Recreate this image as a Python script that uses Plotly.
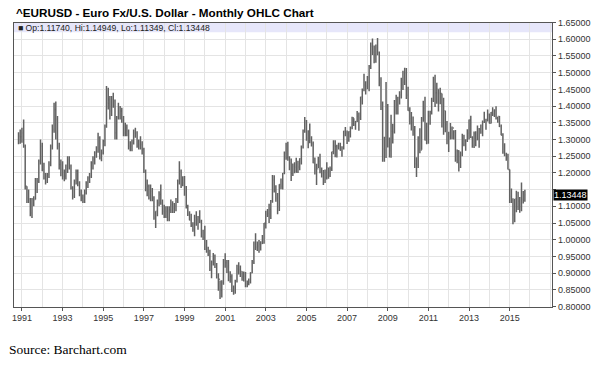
import pandas as pd
import plotly.graph_objects as go

# Monthly bars, Nov 1990 .. Oct 2015 (synthetic euro before 1999)
start_month = "1990-11-01"

close = [
    1.310, 1.308,
    1.320, 1.280, 1.160, 1.125, 1.120, 1.080, 1.120, 1.120, 1.180, 1.175, 1.235, 1.280,
    1.210, 1.185, 1.190, 1.195, 1.225, 1.280, 1.330, 1.390, 1.360, 1.280, 1.225, 1.210,
    1.190, 1.190, 1.210, 1.240, 1.220, 1.155, 1.130, 1.175, 1.205, 1.170, 1.135, 1.125,
    1.115, 1.140, 1.170, 1.185, 1.190, 1.230, 1.240, 1.260, 1.265, 1.305, 1.245, 1.260,
    1.295, 1.340, 1.410, 1.420, 1.385, 1.420, 1.415, 1.320, 1.365, 1.395, 1.385, 1.360,
    1.320, 1.335, 1.325, 1.280, 1.280, 1.290, 1.320, 1.320, 1.280, 1.285, 1.285, 1.270,
    1.205, 1.155, 1.160, 1.125, 1.145, 1.125, 1.065, 1.085, 1.110, 1.135, 1.110, 1.085,
    1.070, 1.085, 1.060, 1.090, 1.105, 1.095, 1.100, 1.115, 1.175, 1.205, 1.165, 1.170,
    1.1575, 1.0975, 1.0770, 1.0585, 1.0430, 1.0310, 1.0670, 1.0600, 1.0680, 1.0550, 1.0090, 1.0070,
    0.9712, 0.9648, 0.9570, 0.9115, 0.9330, 0.9525, 0.9270, 0.8880, 0.8820, 0.8500, 0.8725, 0.9390,
    0.9310, 0.9200, 0.8780, 0.8890, 0.8470, 0.8490, 0.8770, 0.9125, 0.9110, 0.9050, 0.8895, 0.8910,
    0.8600, 0.8685, 0.8720, 0.9015, 0.9335, 0.9870, 0.9775, 0.9810, 0.9865, 0.9885, 0.9920, 1.0490,
    1.0765, 1.0785, 1.0910, 1.1170, 1.1780, 1.1500, 1.1245, 1.0980, 1.1650, 1.1590, 1.1990, 1.2595,
    1.2460, 1.2470, 1.2300, 1.1980, 1.2200, 1.2170, 1.2020, 1.2175, 1.2420, 1.2775, 1.3265, 1.3560,
    1.3035, 1.3255, 1.2960, 1.2870, 1.2300, 1.2100, 1.2125, 1.2340, 1.2025, 1.1990, 1.1790, 1.1845,
    1.2155, 1.1920, 1.2120, 1.2630, 1.2815, 1.2790, 1.2765, 1.2815, 1.2680, 1.2755, 1.3250, 1.3195,
    1.3000, 1.3230, 1.3355, 1.3650, 1.3450, 1.3540, 1.3690, 1.3640, 1.4270, 1.4480, 1.4630, 1.4590,
    1.4860, 1.5185, 1.5790, 1.5610, 1.5545, 1.5755, 1.5600, 1.4690, 1.4100, 1.2720, 1.2690, 1.3970,
    1.2800, 1.2660, 1.3250, 1.3230, 1.4160, 1.4035, 1.4255, 1.4340, 1.4640, 1.4715, 1.4995, 1.4325,
    1.3865, 1.3630, 1.3510, 1.3295, 1.2270, 1.2235, 1.3050, 1.2675, 1.3630, 1.3935, 1.2985, 1.3380,
    1.3695, 1.3805, 1.4160, 1.4805, 1.4395, 1.4500, 1.4390, 1.4380, 1.3390, 1.3860, 1.3445, 1.2960,
    1.3080, 1.3320, 1.3345, 1.3235, 1.2370, 1.2660, 1.2305, 1.2575, 1.2860, 1.2960, 1.2985, 1.3190,
    1.3580, 1.3060, 1.2820, 1.3170, 1.2995, 1.3010, 1.3300, 1.3225, 1.3525, 1.3585, 1.3590, 1.3745,
    1.3485, 1.3805, 1.3770, 1.3870, 1.3635, 1.3690, 1.3390, 1.3130, 1.2630, 1.2525, 1.2450, 1.2100,
    1.1290, 1.1195, 1.0730, 1.1220, 1.0985, 1.1150, 1.0985, 1.1210, 1.1174, 1.13448,
]

high = [
    1.322, 1.330,
    1.335, 1.360, 1.285, 1.160, 1.150, 1.125, 1.125, 1.130, 1.185, 1.185, 1.240, 1.300,
    1.290, 1.230, 1.200, 1.200, 1.235, 1.285, 1.345, 1.410, 1.414, 1.370, 1.290, 1.240,
    1.235, 1.210, 1.225, 1.250, 1.250, 1.225, 1.160, 1.180, 1.210, 1.210, 1.175, 1.150,
    1.135, 1.150, 1.175, 1.190, 1.200, 1.235, 1.250, 1.265, 1.280, 1.320, 1.310, 1.270,
    1.300, 1.345, 1.460, 1.455, 1.430, 1.430, 1.440, 1.420, 1.370, 1.410, 1.400, 1.395,
    1.370, 1.350, 1.345, 1.330, 1.295, 1.300, 1.330, 1.335, 1.325, 1.300, 1.310, 1.295,
    1.275, 1.210, 1.180, 1.165, 1.165, 1.155, 1.130, 1.085, 1.120, 1.145, 1.165, 1.120,
    1.105, 1.100, 1.100, 1.100, 1.120, 1.115, 1.110, 1.125, 1.180, 1.235, 1.210, 1.190,
    1.1906, 1.1608, 1.1045, 1.0850, 1.0780, 1.0520, 1.0750, 1.0850, 1.0710, 1.0880, 1.0600, 1.0300,
    1.0415, 0.9990, 0.9790, 0.9700, 0.9380, 0.9600, 0.9560, 0.9300, 0.9000, 0.8780, 0.8790, 0.9420,
    0.9593, 0.9390, 0.9390, 0.9060, 0.8970, 0.8630, 0.8800, 0.9250, 0.9325, 0.9230, 0.9060, 0.9050,
    0.9035, 0.8780, 0.8840, 0.9030, 0.9390, 0.9950, 1.0190, 0.9950, 0.9990, 0.9955, 1.0140, 1.0500,
    1.0870, 1.0920, 1.1080, 1.1190, 1.1935, 1.1930, 1.1630, 1.1400, 1.1660, 1.1830, 1.2000, 1.2640,
    1.2900, 1.2930, 1.2500, 1.2430, 1.2280, 1.2320, 1.2450, 1.2360, 1.2440, 1.2820, 1.3300, 1.3670,
    1.3580, 1.3280, 1.3480, 1.3100, 1.2940, 1.2460, 1.2270, 1.2480, 1.2570, 1.2160, 1.2090, 1.2100,
    1.2320, 1.2150, 1.2190, 1.2630, 1.2980, 1.2980, 1.2840, 1.2900, 1.2900, 1.2800, 1.3260, 1.3370,
    1.3270, 1.3250, 1.3390, 1.3680, 1.3635, 1.3555, 1.3850, 1.3810, 1.4280, 1.4525, 1.4965, 1.4740,
    1.4900, 1.5230, 1.5900, 1.6020, 1.5810, 1.5840, 1.6038, 1.5630, 1.4860, 1.4140, 1.3080, 1.4720,
    1.4060, 1.3060, 1.3740, 1.3470, 1.4180, 1.4340, 1.4280, 1.4445, 1.4845, 1.5060, 1.5145, 1.5140,
    1.4580, 1.3965, 1.3820, 1.3690, 1.3400, 1.2465, 1.3100, 1.3335, 1.3670, 1.4160, 1.4280, 1.3500,
    1.3860, 1.3860, 1.4250, 1.4880, 1.4940, 1.4700, 1.4500, 1.4550, 1.4380, 1.4250, 1.3860, 1.3550,
    1.3235, 1.3490, 1.3385, 1.3280, 1.3285, 1.2700, 1.2680, 1.2640, 1.3170, 1.3140, 1.3010, 1.3310,
    1.3600, 1.3710, 1.3100, 1.3240, 1.3245, 1.3415, 1.3345, 1.3450, 1.3570, 1.3830, 1.3620, 1.3895,
    1.3775, 1.3825, 1.3965, 1.3905, 1.3995, 1.3680, 1.3700, 1.3445, 1.3190, 1.2890, 1.2600, 1.2570,
    1.2100, 1.1535, 1.1240, 1.1215, 1.1465, 1.1435, 1.1280, 1.1715, 1.1460, 1.14949,
]

low = [
    1.286, 1.287,
    1.290, 1.275, 1.150, 1.110, 1.110, 1.070, 1.065, 1.100, 1.120, 1.140, 1.170, 1.225,
    1.205, 1.180, 1.165, 1.170, 1.185, 1.220, 1.270, 1.320, 1.300, 1.270, 1.210, 1.190,
    1.180, 1.175, 1.180, 1.200, 1.210, 1.150, 1.120, 1.125, 1.165, 1.160, 1.130, 1.115,
    1.110, 1.110, 1.135, 1.155, 1.170, 1.185, 1.210, 1.225, 1.245, 1.260, 1.240, 1.235,
    1.255, 1.280, 1.335, 1.390, 1.360, 1.370, 1.395, 1.300, 1.300, 1.360, 1.360, 1.350,
    1.310, 1.310, 1.310, 1.270, 1.265, 1.265, 1.285, 1.305, 1.275, 1.270, 1.270, 1.255,
    1.200, 1.145, 1.130, 1.120, 1.115, 1.115, 1.060, 1.035, 1.070, 1.100, 1.105, 1.075,
    1.065, 1.065, 1.055, 1.055, 1.080, 1.080, 1.080, 1.085, 1.110, 1.165, 1.155, 1.160,
    1.1316, 1.0935, 1.0707, 1.0580, 1.0380, 1.0240, 1.0105, 1.0420, 1.0295, 1.0500, 1.0070, 0.9990,
    0.9693, 0.9613, 0.9510, 0.9065, 0.8844, 0.9230, 0.9155, 0.8840, 0.8472, 0.8228, 0.8268, 0.8655,
    0.9158, 0.9007, 0.8760, 0.8715, 0.8435, 0.8350, 0.8380, 0.8720, 0.8960, 0.8885, 0.8770, 0.8750,
    0.8580, 0.8580, 0.8640, 0.8690, 0.9000, 0.9270, 0.9695, 0.9660, 0.9610, 0.9680, 0.9870, 0.9880,
    1.0335, 1.0680, 1.0500, 1.0620, 1.1110, 1.1410, 1.1140, 1.0760, 1.0860, 1.1510, 1.1500, 1.1960,
    1.2390, 1.2360, 1.2080, 1.1760, 1.1905, 1.1990, 1.2010, 1.2000, 1.2080, 1.2255, 1.2730, 1.3200,
    1.2960, 1.2740, 1.2890, 1.2790, 1.2290, 1.1950, 1.1640, 1.2150, 1.1990, 1.1860, 1.1640, 1.1700,
    1.1800, 1.1825, 1.1875, 1.2060, 1.2560, 1.2470, 1.2460, 1.2700, 1.2660, 1.2480, 1.2700, 1.3100,
    1.2865, 1.2930, 1.3060, 1.3310, 1.3400, 1.3290, 1.3520, 1.3260, 1.3580, 1.4050, 1.4440, 1.4350,
    1.4505, 1.4440, 1.5110, 1.5530, 1.5285, 1.5300, 1.5520, 1.4590, 1.3885, 1.2330, 1.2330, 1.2445,
    1.2760, 1.2460, 1.2455, 1.2880, 1.3180, 1.3745, 1.3750, 1.4045, 1.4225, 1.4480, 1.4630, 1.4215,
    1.3860, 1.3445, 1.3270, 1.3115, 1.2145, 1.1876, 1.2150, 1.2590, 1.2690, 1.3530, 1.2970, 1.2860,
    1.2870, 1.3440, 1.3750, 1.4120, 1.3970, 1.4070, 1.3840, 1.4055, 1.3360, 1.3145, 1.3215, 1.2860,
    1.2625, 1.3000, 1.3005, 1.3000, 1.2330, 1.2290, 1.2040, 1.2150, 1.2500, 1.2800, 1.2660, 1.2925,
    1.3000, 1.3045, 1.2750, 1.2745, 1.2795, 1.2980, 1.2755, 1.3170, 1.3100, 1.3490, 1.3295, 1.3540,
    1.3480, 1.3475, 1.3705, 1.3675, 1.3600, 1.3500, 1.3375, 1.3130, 1.2570, 1.2500, 1.2360, 1.2100,
    1.1100, 1.1100, 1.0460, 1.0520, 1.0820, 1.0890, 1.0810, 1.0850, 1.1085, 1.11349,
]

first_open = 1.300
last_open = 1.11740

y_ticks = [0.80, 0.85, 0.90, 0.95, 1.00, 1.05, 1.10, 1.15, 1.20, 1.25, 1.30,
           1.35, 1.40, 1.45, 1.50, 1.55, 1.60, 1.65]
y_hidden_label = 1.15   # covered by the last-price box in the original
x_tick_years = list(range(1991, 2016, 2))

title_text = "^EURUSD - Euro Fx/U.S. Dollar - Monthly OHLC Chart"
legend_text = "■ Op:1.11740, Hi:1.14949, Lo:1.11349, Cl:1.13448"
last_label = "1.13448"
source_text = "Source: Barchart.com"

months = pd.date_range(start_month, periods=len(close), freq="MS")
opens = [first_open] + close[:-1]
opens[-1] = last_open

W, H = 595, 368
px_l, px_r, px_t, px_b = 12, 552, 18, 310

fig = go.Figure(go.Ohlc(
    x=months, open=opens, high=high, low=low, close=close,
    increasing=dict(line=dict(color="#626262", width=1.5)),
    decreasing=dict(line=dict(color="#626262", width=1.5)),
    tickwidth=0.5, hoverinfo="skip", showlegend=False,
))

fig.update_layout(
    width=W, height=H, margin=dict(l=0, r=0, t=0, b=0),
    paper_bgcolor="white", plot_bgcolor="white",
    font=dict(family="Arial, Liberation Sans, sans-serif", color="#333333", size=9),
    xaxis=dict(
        domain=[px_l / W, px_r / W],
        type="date",
        range=["1990-08-11", "2017-02-02"],
        tickvals=[f"{y}-01-01" for y in x_tick_years],
        ticktext=[str(y) for y in x_tick_years],
        ticks="outside", ticklen=3, tickcolor="#555",
        showgrid=True, gridcolor="#e4e4e4", gridwidth=1,
        minor=dict(dtick="M12", tick0="1991-01-01", showgrid=True, gridcolor="#e4e4e4"),
        showline=True, linecolor="#555", linewidth=1, mirror=True,
        rangeslider=dict(visible=False),
        tickfont=dict(size=9, color="#333"),
        fixedrange=True,
    ),
    yaxis=dict(
        domain=[(H - px_b) / H, (H - px_t) / H],
        side="right",
        range=[0.7999, 1.6501],
        tickvals=y_ticks,
        ticktext=["" if abs(v - y_hidden_label) < 1e-9 else f"{v:.5f}" for v in y_ticks],
        ticks="outside", ticklen=3, tickcolor="#555",
        showgrid=True, gridcolor="#e4e4e4", gridwidth=1,
        showline=True, linecolor="#555", linewidth=1, mirror=True,
        zeroline=False,
        tickfont=dict(size=9, color="#333"),
        fixedrange=True,
    ),
    shapes=[dict(type="rect", xref="x domain", yref="y",
                 x0=0, x1=1, y0=1.621, y1=1.6501,
                 fillcolor="#e6e6fa", line=dict(width=0), layer="below")],
    annotations=[
        dict(text="<b>" + title_text + "</b>", xref="paper", yref="paper",
             x=12 / W, y=(H - 8) / H, xanchor="left", yanchor="middle",
             showarrow=False, font=dict(size=11.7, color="#000",
                                        family="Arial, Liberation Sans, sans-serif")),
        dict(text=legend_text, xref="paper", yref="paper",
             x=14 / W, y=(H - 23.5) / H, xanchor="left", yanchor="middle",
             showarrow=False, font=dict(size=8.6, color="#222")),
        dict(text=last_label, xref="paper", yref="y",
             x=(px_r + 1) / W, y=close[-1], xanchor="left", yanchor="middle",
             showarrow=False, bgcolor="#000", borderpad=0,
             font=dict(size=9, color="#fff")),
        dict(text=source_text, xref="paper", yref="paper",
             x=5 / W, y=(H - 354) / H, xanchor="left", yanchor="middle",
             showarrow=False, font=dict(size=13.5, color="#000",
                                        family="Liberation Serif, Times New Roman, serif")),
    ],
)

fig.write_html(
    "out.html",
    config={"displayModeBar": False, "staticPlot": True},
    post_script="document.body.style.margin='0';document.body.style.padding='0';"
                "document.body.style.overflow='hidden';",
)
